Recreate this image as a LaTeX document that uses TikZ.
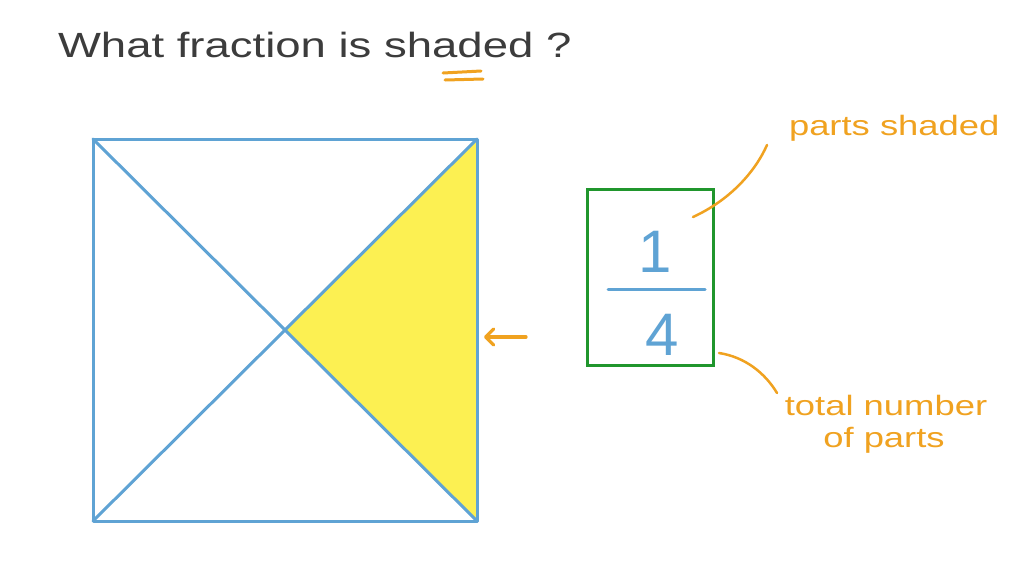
\documentclass[tikz,border=0pt]{standalone}
\usepackage{fontspec}
\usepackage{graphicx}
\setmainfont{Liberation Sans}
\usetikzlibrary{arrows.meta}
\definecolor{inkgray}{RGB}{60,60,60}
\definecolor{sqblue}{RGB}{95,163,212}
\definecolor{boxgreen}{RGB}{32,150,45}
\definecolor{penorange}{RGB}{240,162,32}
\definecolor{shadeyellow}{RGB}{252,240,82}
\tikzset{
  sqline/.style={draw=sqblue, line width=3pt, line cap=round, line join=round},
  orangeline/.style={draw=penorange, line width=2.5pt, line cap=round},
  handtext/.style={inner sep=0pt, outer sep=0pt},
}
\newcommand{\hw}[1]{\scalebox{1.3}[1]{#1}}
\begin{document}
\begin{tikzpicture}[x=1pt,y=-1pt]
\useasboundingbox[fill=white] (0,0) rectangle (1024,576);
% square corners
\coordinate (TL) at (93,139);
\coordinate (TR) at (477,139);
\coordinate (BR) at (477,521);
\coordinate (BL) at (93,521);
\coordinate (C) at (285,330);
% shaded triangle
\fill[shadeyellow] (TR) -- (C) -- (BR) -- cycle;
\draw[sqline] (TL) -- (TR) -- (BR) -- (BL) -- cycle;
\draw[sqline] (TL) -- (BR);
\draw[sqline] (TR) -- (BL);
% title
\node[handtext, anchor=base west, text=inkgray, font=\fontsize{35}{40}\selectfont] (title) at (58,57) {\hw{What fraction is shaded ?}};
\coordinate (u1a) at (443,73); \coordinate (u1b) at (481,71);
\coordinate (u2a) at (445,80); \coordinate (u2b) at (483,79);
\draw[orangeline, line width=3pt] (u1a) -- (u1b);
\draw[orangeline, line width=3pt] (u2a) -- (u2b);
% arrow
\coordinate (arS) at (526,337);
\coordinate (arE) at (484,337);
\draw[orangeline, line width=3.3pt, -{Straight Barb[length=8pt,width=16pt,line cap=round,line join=round]}] (arS) -- (arE);
% fraction box
\node[draw=boxgreen, line width=3.5pt, minimum width=126pt, minimum height=176pt, inner sep=0pt] (box) at (650.5,277.5) {};
\node[handtext, anchor=base, text=sqblue, font=\fontsize{60}{60}\selectfont] (num) at (655,272) {1};
\node[handtext, anchor=base, text=sqblue, font=\fontsize{60}{60}\selectfont] (den) at (662,355) {4};
\coordinate (barL) at (608,289);
\coordinate (barR) at (705,289);
\draw[sqline] (barL) -- (barR);
% labels
\node[handtext, anchor=base west, text=penorange, font=\fontsize{28}{32}\selectfont] (ps) at (789,135) {\hw{parts shaded}};
\node[handtext, anchor=base, text=penorange, font=\fontsize{28}{32}\selectfont] (tn) at (886,415) {\hw{total number}};
\node[handtext, anchor=base, text=penorange, font=\fontsize{28}{32}\selectfont] (op) at (884,447) {\hw{of parts}};
\coordinate (c1s) at (693,217);
\coordinate (c1e) at (767,145);
\draw[orangeline] (c1s) .. controls (730,200) and (755,172) .. (c1e);
\coordinate (c2s) at (719,353);
\coordinate (c2e) at (777,393);
\draw[orangeline] (c2s) .. controls (745,357) and (765,373) .. (c2e);
\end{tikzpicture}
\end{document}
